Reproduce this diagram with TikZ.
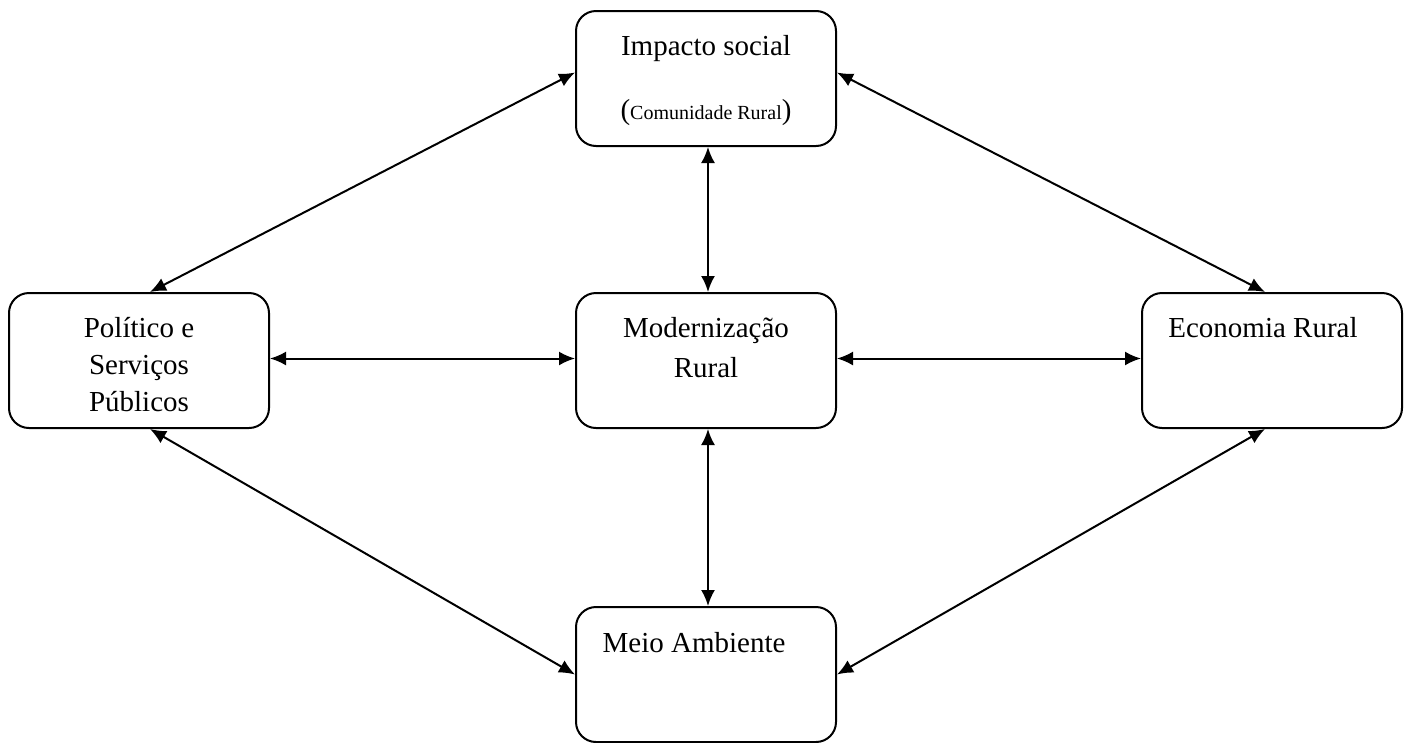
\documentclass[tikz,border=0pt]{standalone}
\usepackage{fontspec}
\setmainfont{Liberation Serif}
\usetikzlibrary{arrows.meta, positioning}

\begin{document}
\begin{tikzpicture}[x=1pt, y=-1pt]
	\tikzstyle{box} = [draw, rectangle, rounded corners=20pt, line width=2pt, minimum width=260pt, minimum height=135pt]
	\tikzstyle{txt} = [inner sep=0pt, align=center, font=\fontsize{29}{37}\selectfont]
	\tikzstyle{both} = [{Latex[length=16pt,width=14pt]}-{Latex[length=16pt,width=14pt]}, line width=2pt]
	\useasboundingbox (0,0) rectangle (1407,742);
	% boxes
	\node (social) [box] at (706,78.5) {};
	\node (politico) [box] at (139,360.5) {};
	\node (modern) [box] at (706,360.5) {};
	\node (economia) [box] at (1272,360.5) {};
	\node (meio) [box] at (706,674.5) {};
	% texts
	\node (socialtxt) [txt, anchor=base] at (706,55) {Impacto social};
	\node (socialsub) [txt, anchor=base] at (706,119) {({\fontsize{20}{24}\selectfont Comunidade Rural})};
	\node (politicotxt) [txt] at (139,365) {Político e\\Serviços\\Públicos};
	\node (moderntxt) [txt] at (706,348) {Modernização\\[3pt]Rural};
	\node (economiatxt) [txt, anchor=base] at (1263,337) {Economia Rural};
	\node (meiotxt) [txt, anchor=base] at (694,652) {Meio Ambiente};
	% links
	\draw[both] ([yshift=6pt]social.west) -- ([xshift=11pt]politico.north);
	\draw[both] ([yshift=6pt]social.east) -- ([xshift=-7pt]economia.north);
	\draw[both] ([xshift=2pt]social.south) -- ([xshift=2pt]modern.north);
	\draw[both] ([yshift=2pt]politico.east) -- ([yshift=2pt]modern.west);
	\draw[both] ([yshift=2pt]modern.east) -- ([yshift=2pt]economia.west);
	\draw[both] ([xshift=2pt]modern.south) -- ([xshift=2pt]meio.north);
	\draw[both] ([xshift=11pt]politico.south) -- (meio.west);
	\draw[both] ([xshift=-7pt]economia.south) -- (meio.east);
\end{tikzpicture}
\end{document}
